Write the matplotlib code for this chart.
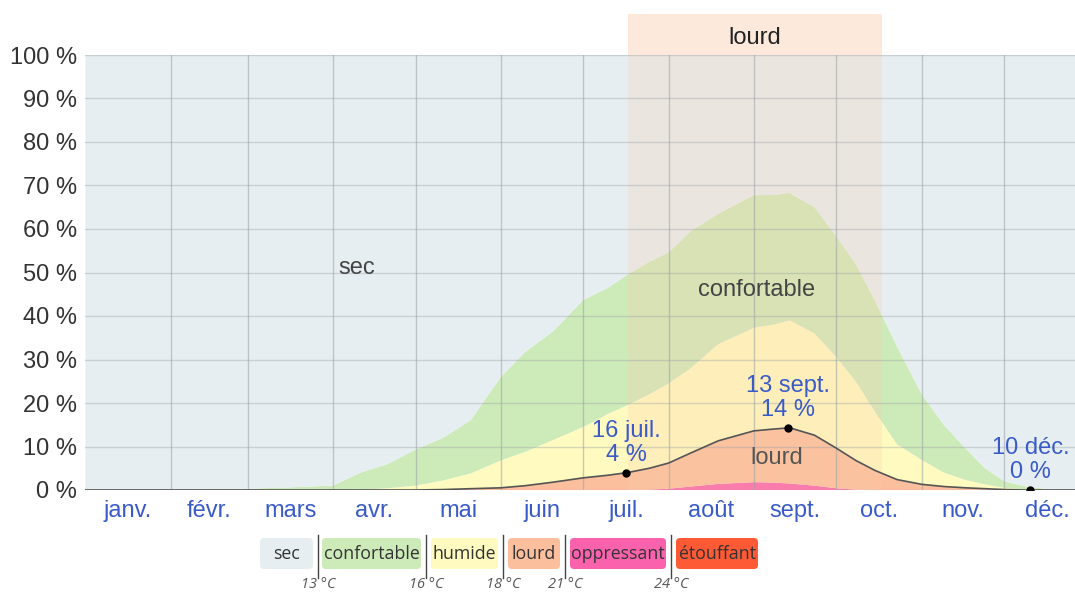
import numpy as np
import matplotlib
matplotlib.use('Agg')
import matplotlib.pyplot as plt
from matplotlib.patches import FancyBboxPatch, Rectangle

# day of year (0 = 1 janv.)
days = [0, 31, 59, 74, 90, 100, 110, 120, 130, 140, 151, 160, 170, 181, 190, 197,
        205, 212, 220, 230, 243, 250, 256, 265, 273, 280, 287, 295, 304, 312, 320,
        327, 334, 342, 350, 360]

# share of time (%) in each comfort level
oppressant = [0, 0, 0, 0, 0, 0, 0, 0, 0, 0, 0, 0, 0, 0, 0, 0,
              0.1, 0.3, 0.8, 1.4, 1.8, 1.7, 1.5, 1.0, 0.4, 0.1, 0, 0, 0, 0, 0,
              0, 0, 0, 0, 0]
lourd = [0, 0, 0, 0, 0, 0, 0, 0, 0.1, 0.3, 0.5, 1.0, 1.8, 2.8, 3.4, 4.0,
         4.9, 5.9, 7.7, 9.9, 11.8, 12.3, 12.8, 11.6, 9.2, 6.7, 4.5, 2.4, 1.3, 0.8, 0.5,
         0.3, 0.1, 0, 0, 0]
humide = [0, 0, 0, 0, 0, 0.1, 0.4, 1.0, 2.1, 3.5, 6.3, 7.8, 9.7, 11.7, 14.1, 15.5,
          17.0, 18.3, 19.5, 22.2, 23.7, 24.0, 24.7, 23.4, 20.9, 18.2, 13.5, 8.1, 5.6, 3.2, 1.8,
          1.0, 0.4, 0.1, 0, 0]
confortable = [0, 0, 0.3, 0.6, 1.0, 3.9, 5.6, 8.3, 9.8, 12.2, 19.2, 23.0, 25.0, 29.2, 29.0, 30.0,
               30.5, 30.1, 31.5, 30.0, 30.5, 29.8, 29.3, 29.0, 27.8, 27.0, 25.5, 22.5, 15.1, 11.0, 7.2,
               3.7, 1.5, 0.7, 0.2, 0]

months = ['janv.', 'févr.', 'mars', 'avr.', 'mai', 'juin', 'juil.', 'août',
          'sept.', 'oct.', 'nov.', 'déc.']
month_start = [0, 31, 59, 90, 120, 151, 181, 212, 243, 273, 304, 334, 365]

# highlighted points (day, label)
hl_days = [196.5, 255.5, 343.5]
hl_labels = ['16 juil.\n4 %', '13 sept.\n14 %', '10 déc.\n0 %']

# season band "lourd"
band_start, band_end = 197.2, 289.5

legend_names = ['sec', 'confortable', 'humide', 'lourd', 'oppressant', 'étouffant']
legend_temps = ['13 °C', '16 °C', '18 °C', '21 °C', '24 °C']

c_sec = '#e6eef1'
c_conf = '#cdeab9'
c_hum = '#fffac0'
c_lourd = '#fcbf9d'
c_opp = '#fb62ad'
c_etou = '#fd5a35'
blue = '#3a5bc7'

plt.rcParams['font.family'] = ['Liberation Sans', 'DejaVu Sans']

fig = plt.figure(figsize=(10.75, 5.94), dpi=100)
ax = fig.add_axes([85.4 / 1075, 104 / 594, (1075 - 85.4) / 1075, 435 / 594])

d = np.array(days, dtype=float)
opp = np.array(oppressant)
lrd = np.array(lourd)
hum = np.array(humide)
conf = np.array(confortable)
sec = 100 - opp - lrd - hum - conf

ax.stackplot(d, opp, lrd, hum, conf, sec,
             colors=[c_opp, c_lourd, c_hum, c_conf, c_sec], lw=0, zorder=1)
ax.plot(d, opp + lrd, color='#555555', lw=1.2, zorder=4)

ax.axvspan(band_start, band_end, color='#facdaa', alpha=0.25, lw=0, zorder=2)

ax.set_xlim(0, 359.7)
ax.set_ylim(0, 100)
for s in ax.spines.values():
    s.set_visible(False)

ax.set_yticks(range(0, 101, 10))
ax.set_yticklabels(['%d %%' % v for v in range(0, 101, 10)], fontsize=17, color='#333333')
ax.set_xticks(month_start[1:-1])
ax.set_xticklabels([])
centers = [(month_start[i] + month_start[i + 1]) / 2 for i in range(12)]
ax.set_xticks(centers, minor=True)
ax.set_xticklabels(months, minor=True, fontsize=17, color=blue)
ax.tick_params(axis='both', which='both', length=0)
ax.tick_params(axis='x', which='minor', pad=7)
ax.tick_params(axis='y', pad=6)

for m in month_start[1:-1]:
    ax.axvline(m, color='#9aa3a7', lw=1, alpha=0.55, zorder=3)
for v in range(0, 101, 10):
    ax.axhline(v, color='#9aa3a7', lw=1, alpha=0.4, zorder=3)

cum = opp + lrd
for xd, lab in zip(hl_days, hl_labels):
    yv = np.interp(xd, d, cum)
    ax.plot(xd, yv, 'o', color='black', ms=5, zorder=6)
    ax.annotate(lab, (xd, yv), xytext=(0, 5), textcoords='offset points',
                ha='center', va='bottom', fontsize=17, color=blue,
                linespacing=1.1, zorder=7, annotation_clip=False)

ax.text(98.7, 51, 'sec', fontsize=17, color='#444444', ha='center', va='center', zorder=7)
ax.text(244, 46, 'confortable', fontsize=17, color='#444444', ha='center', va='center', zorder=7)
ax.text(251.3, 7.4, 'lourd', fontsize=17, color='#555555', ha='center', va='center', zorder=7)

# overlay in pixel coords for top band and legend
ov = fig.add_axes([0, 0, 1, 1])
ov.set_xlim(0, 1075)
ov.set_ylim(594, 0)
ov.axis('off')
ov.patch.set_alpha(0)

ov.add_patch(Rectangle((628, 14), 254, 41, color='#fde8dc', lw=0))
ov.text(755, 38, 'lourd', fontsize=17, color='#222222', ha='center', va='center')

box_x = [(260, 313), (322, 421), (431, 498), (508, 560), (570, 666), (676, 758)]
box_c = [c_sec, c_conf, c_hum, c_lourd, c_opp, c_etou]
for (x0, x1), col, name in zip(box_x, box_c, legend_names):
    ov.add_patch(FancyBboxPatch((x0, 538), x1 - x0, 31,
                                boxstyle='round,pad=0,rounding_size=4', fc=col, lw=0))
    ov.text((x0 + x1) / 2, 554, name, fontsize=12.8, family='Open Sans',
            color='#333333', ha='center', va='center')

sep_x = [318, 426, 503, 565, 671]
for sx, t in zip(sep_x, legend_temps):
    ov.plot([sx, sx], [535, 578], color='#444444', lw=1)
    ov.text(sx, 585, t, fontsize=10.5, family='Open Sans', style='italic',
            color='#555555', ha='center', va='center')

fig.savefig('out.png', dpi=100)
